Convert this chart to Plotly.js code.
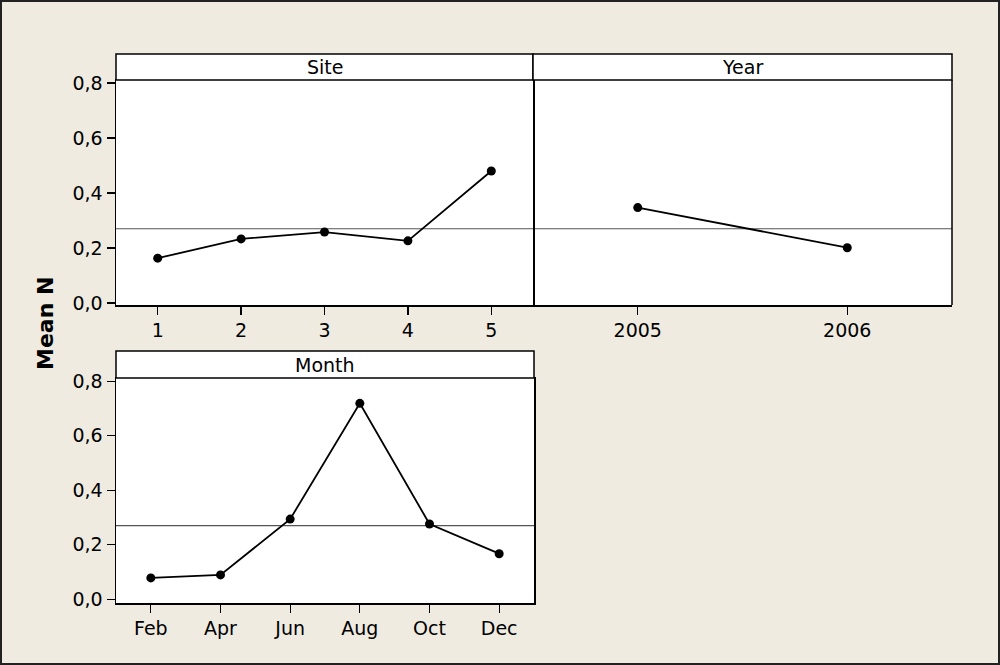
<!DOCTYPE html>
<html>
<head>
<meta charset="utf-8">
<script src="https://cdn.plot.ly/plotly-3.0.1.min.js"></script>
<style>
html,body{margin:0;padding:0;background:#efebe0;}
#chart{width:1000px;height:665px;}
</style>
</head>
<body>
<div id="chart"></div>
<script>
// Data
const siteLevels = [1, 2, 3, 4, 5];
const siteMeans = [0.163, 0.233, 0.258, 0.226, 0.480];
const yearLevels = [2005, 2006];
const yearMeans = [0.347, 0.201];
const monthLevels = ['Feb', 'Apr', 'Jun', 'Aug', 'Oct', 'Dec'];
const monthMeans = [0.078, 0.089, 0.294, 0.719, 0.276, 0.167];
const grandMean = 0.27;
const panelTitles = ['Site', 'Year', 'Month'];
const yTicks = [0, 0.2, 0.4, 0.6, 0.8];

const FONT = 'DejaVu Sans, Verdana, sans-serif';
const H = 665, W = 1000;
const px = v => v / W;
const py = v => 1 - v / H;

function lineTrace(x, y, xa, ya) {
  return {
    x: x, y: y, xaxis: xa, yaxis: ya, type: 'scatter', mode: 'lines+markers',
    line: {color: '#000', width: 1.8},
    marker: {color: '#000', size: 9},
    hoverinfo: 'x+y', showlegend: false
  };
}

const traces = [
  lineTrace(siteLevels, siteMeans, 'x', 'y'),
  lineTrace(yearLevels, yearMeans, 'x2', 'y2'),
  lineTrace(monthLevels, monthMeans, 'x3', 'y3')
];

const axBase = {
  showline: true, mirror: true, linecolor: '#000', linewidth: 1.5,
  showgrid: false, zeroline: false, ticks: 'outside', ticklen: 8,
  tickcolor: '#000', tickwidth: 1.3,
  tickfont: {family: FONT, size: 19, color: '#000'}
};

const yBase = Object.assign({}, axBase, {
  tickvals: yTicks, tickformat: '.1f', fixedrange: true
});

// panel geometry in pixels
const topPlot = [80, 305];
const botPlot = [378, 603];
const topStrip = [54, 80];
const botStrip = [351, 378];

const layout = {
  width: W, height: H,
  margin: {l: 0, r: 0, t: 0, b: 0},
  paper_bgcolor: '#efebe0',
  plot_bgcolor: '#ffffff',
  separators: ',.',
  font: {family: FONT, color: '#000'},
  showlegend: false,
  xaxis: Object.assign({}, axBase, {
    domain: [px(116), px(533)], anchor: 'y',
    range: [0.5, 5.5], tickvals: siteLevels
  }),
  yaxis: Object.assign({}, yBase, {
    domain: [py(topPlot[1]), py(topPlot[0])], anchor: 'x',
    range: [-0.0073, 0.811]
  }),
  xaxis2: Object.assign({}, axBase, {
    domain: [px(533), px(952)], anchor: 'y2',
    range: [2004.5, 2006.5], tickvals: yearLevels
  }),
  yaxis2: Object.assign({}, yBase, {
    domain: [py(topPlot[1]), py(topPlot[0])], anchor: 'x2',
    range: [-0.0073, 0.811], showticklabels: false, ticks: '', showline: false
  }),
  xaxis3: Object.assign({}, axBase, {
    domain: [px(116), px(534)], anchor: 'y3',
    type: 'category', range: [-0.5, 5.5]
  }),
  yaxis3: Object.assign({}, yBase, {
    domain: [py(botPlot[1]), py(botPlot[0])], anchor: 'x3',
    range: [-0.014, 0.812]
  }),
  shapes: [
    // mean lines
    {type: 'line', xref: 'x domain', yref: 'y', x0: 0, x1: 1, y0: grandMean, y1: grandMean,
     line: {color: '#555', width: 1.2}, layer: 'below'},
    {type: 'line', xref: 'x2 domain', yref: 'y2', x0: 0, x1: 1, y0: grandMean, y1: grandMean,
     line: {color: '#555', width: 1.2}, layer: 'below'},
    {type: 'line', xref: 'x3 domain', yref: 'y3', x0: 0, x1: 1, y0: grandMean, y1: grandMean,
     line: {color: '#555', width: 1.2}, layer: 'below'},
    // right border of Year panel (its own y axis line is hidden)
    {type: 'line', xref: 'paper', yref: 'paper', x0: px(952), x1: px(952),
     y0: py(topPlot[1]), y1: py(topPlot[0]), line: {color: '#000', width: 1.5}},
    // strips
    {type: 'rect', xref: 'paper', yref: 'paper', x0: px(116), x1: px(533),
     y0: py(topStrip[1]), y1: py(topStrip[0]), fillcolor: '#fff', line: {color: '#000', width: 1.5}},
    {type: 'rect', xref: 'paper', yref: 'paper', x0: px(533), x1: px(952),
     y0: py(topStrip[1]), y1: py(topStrip[0]), fillcolor: '#fff', line: {color: '#000', width: 1.5}},
    {type: 'rect', xref: 'paper', yref: 'paper', x0: px(116), x1: px(534),
     y0: py(botStrip[1]), y1: py(botStrip[0]), fillcolor: '#fff', line: {color: '#000', width: 1.5}},
    // outer frame
    {type: 'rect', xref: 'paper', yref: 'paper', x0: px(1), x1: px(999),
     y0: py(664), y1: py(1), line: {color: '#222', width: 2}, fillcolor: 'rgba(0,0,0,0)'}
  ],
  annotations: [
    {text: panelTitles[0], xref: 'paper', yref: 'paper', x: px((116 + 533) / 2), y: py((topStrip[0] + topStrip[1]) / 2),
     showarrow: false, font: {family: FONT, size: 19, color: '#000'}, xanchor: 'center', yanchor: 'middle'},
    {text: panelTitles[1], xref: 'paper', yref: 'paper', x: px((533 + 952) / 2), y: py((topStrip[0] + topStrip[1]) / 2),
     showarrow: false, font: {family: FONT, size: 19, color: '#000'}, xanchor: 'center', yanchor: 'middle'},
    {text: panelTitles[2], xref: 'paper', yref: 'paper', x: px((116 + 534) / 2), y: py((botStrip[0] + botStrip[1]) / 2),
     showarrow: false, font: {family: FONT, size: 19, color: '#000'}, xanchor: 'center', yanchor: 'middle'},
    {text: '<b>Mean N</b>', xref: 'paper', yref: 'paper', x: px(46), y: py(324),
     showarrow: false, textangle: -90, font: {family: FONT, size: 22, color: '#000'},
     xanchor: 'center', yanchor: 'middle'}
  ]
};

Plotly.newPlot('chart', traces, layout, {displayModeBar: false, staticPlot: true});
</script>
</body>
</html>
